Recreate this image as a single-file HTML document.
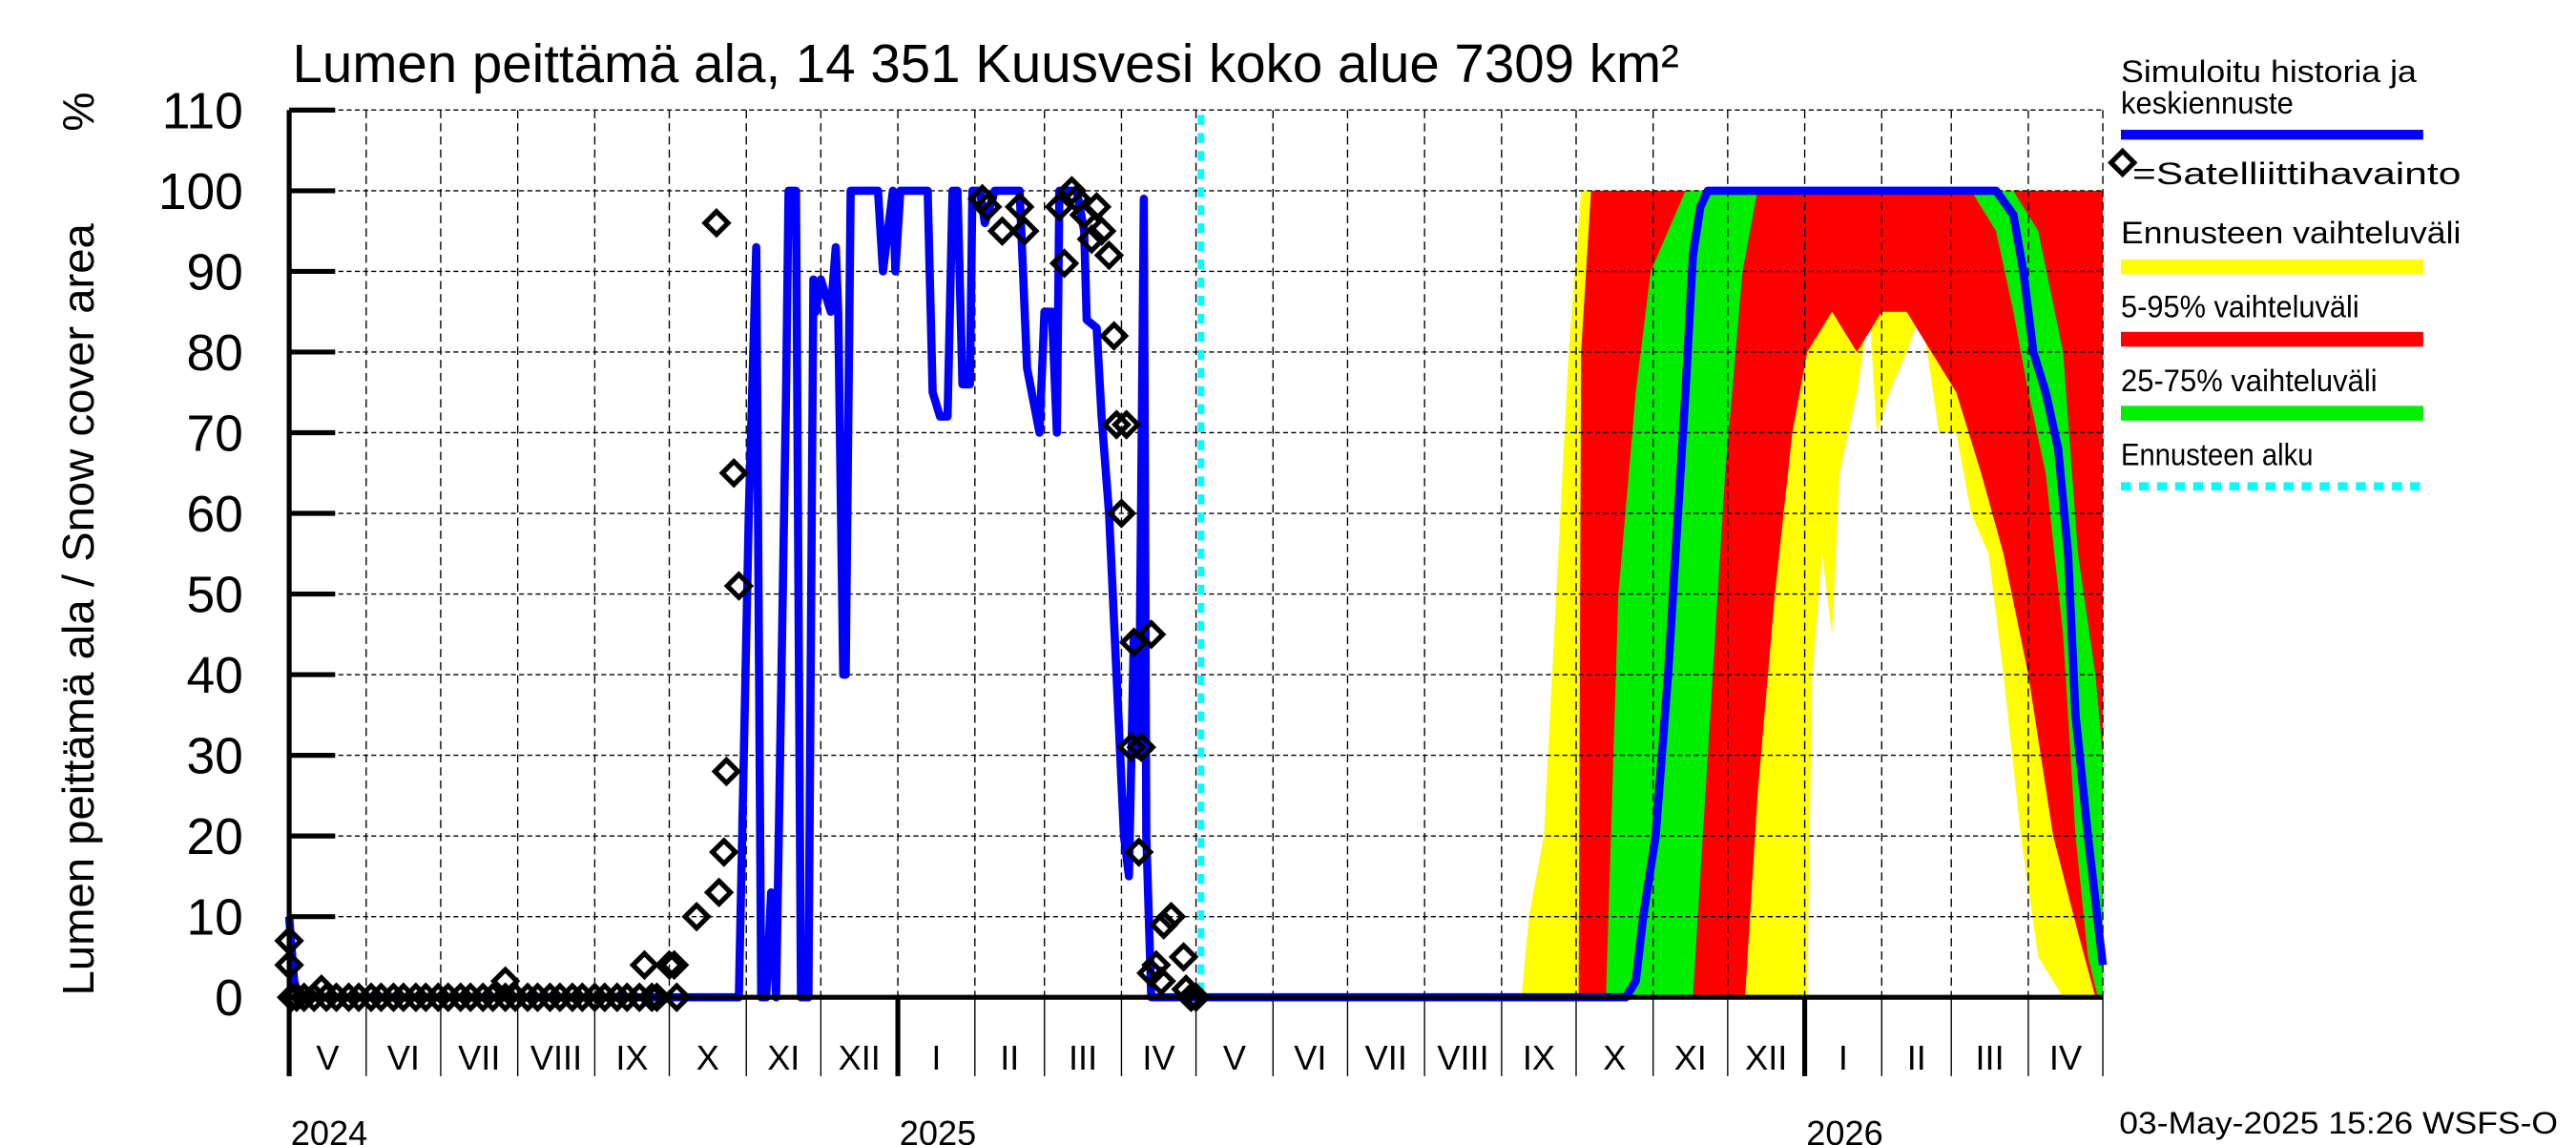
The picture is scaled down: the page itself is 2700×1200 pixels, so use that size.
<!DOCTYPE html>
<html><head><meta charset="utf-8"><style>
html,body{margin:0;padding:0;background:#fff;}
svg{display:block;}
text{font-family:"Liberation Sans",sans-serif;fill:#000;}
</style></head><body>
<svg id="chart" width="2700" height="1200" viewBox="0 0 1568 696.9" xmlns="http://www.w3.org/2000/svg">
<rect x="0" y="0" width="1568" height="697" fill="#fff"/>
<g id="bands"></g>
<g id="grid"></g>
<g id="lines"></g>
<g id="marks"></g>
<g id="axes"></g>
<text x="178" y="50" font-size="33" textLength="844" lengthAdjust="spacingAndGlyphs">Lumen peittämä ala, 14 351 Kuusvesi koko alue 7309 km²</text>
<text transform="translate(57,606) rotate(-90)" font-size="27" textLength="470" lengthAdjust="spacingAndGlyphs">Lumen peittämä ala / Snow cover area</text>
<text transform="translate(57,80) rotate(-90)" font-size="27">%</text>
<g font-size="19">
<text x="1291" y="50" textLength="180" lengthAdjust="spacingAndGlyphs">Simuloitu historia ja</text>
<text x="1291" y="69" textLength="105" lengthAdjust="spacingAndGlyphs">keskiennuste</text>
<rect x="1291" y="79" width="184" height="6" fill="#0000ff"/>
<path d="M1292,92 L1299,99 L1292,106 L1285,99 Z" fill="none" stroke="#000" stroke-width="3"/>
<text x="1298" y="112" textLength="200" lengthAdjust="spacingAndGlyphs">=Satelliittihavainto</text>
<text x="1291" y="148" textLength="207" lengthAdjust="spacingAndGlyphs">Ennusteen vaihteluväli</text>
<rect x="1291" y="158" width="184" height="9" fill="#ffff00"/>
<text x="1291" y="193" textLength="145" lengthAdjust="spacingAndGlyphs">5-95% vaihteluväli</text>
<rect x="1291" y="202" width="184" height="9" fill="#ff0000"/>
<text x="1291" y="238" textLength="156" lengthAdjust="spacingAndGlyphs">25-75% vaihteluväli</text>
<rect x="1291" y="247" width="184" height="9" fill="#00ee00"/>
<text x="1291" y="283" textLength="117" lengthAdjust="spacingAndGlyphs">Ennusteen alku</text>
<line x1="1291" y1="296" x2="1475" y2="296" stroke="#00ffff" stroke-width="5" stroke-dasharray="6,5"/>
</g>
<text x="1290" y="690" font-size="19" textLength="267" lengthAdjust="spacingAndGlyphs">03-May-2025 15:26 WSFS-O</text>
</svg>
<script>
// Data (x = days since 2024-05-01, y = %)
const histDays = [0,2,4,181,185,188,190,192,194,196,200,201,204,206,209,211,212,214,218,220,221,223,224,226,237,239,243,244,246,257,259,262,265,267,269,271,274,275,278,280,284,294,297,302,304,307,309,310,317,320,321,325,327,330,333,336,338,340,342,344,345,347,366];
const histVals = [10,2,0,0,60,93,0,0,13,0,75,100,100,0,0,89,85,89,85,93,85,40,40,100,100,90,100,90,100,100,75,72,72,100,100,76,76,100,100,96,100,100,78,70,85,85,70,100,100,95,84,83,72,60,40,20,15,45,30,99,20,0,0];
const fcDays = [367,538,542,545,550,555,558,562,565,568,571,600,687,694,698,702,707,712,716,719,724,730];
const fcVals = [0,0,2,10,20,40,55,75,92,98,100,100,100,97,90,80,75,68,55,35,20,4];
const yelDays = [367,496,499,505,515,520,730];
const yelHi = [0,0,10,20,80,100,100];
const yelLoDays = [367,611,613,617,621,624,631,636,639,644,651,657,664,671,677,684,690,697,704,714,730];
const yelLo = [0,0,40,55,45,65,75,85,70,75,80,85,70,70,60,55,40,20,5,0,0];
const redDays = [367,519,520,524,730];
const redHi = [0,0,80,100,100];
const redLoDays = [367,586,591,598,605,611,621,631,641,651,661,671,681,690,700,710,720,727,730];
const redLo = [0,0,25,50,70,80,85,80,85,85,80,75,65,55,40,20,8,0,0];
const grnDays = [367,530,535,542,548,562,694,704,714,720,727,730];
const grnHi = [0,0,50,75,90,100,100,95,80,55,40,30];
const grnLoDays = [367,565,571,578,585,591,677,687,694,700,707,714,719,724,728,730];
const grnLo = [0,0,30,65,90,100,100,95,85,75,65,45,20,5,0,0];
const satDays = [0,0,1,13,3,6,10,15,19,24,28,33,37,42,46,51,55,60,64,69,73,78,82,87,91,96,100,105,109,114,118,123,127,132,136,141,146,148,87,143,153,155,156,164,173,175,176,172,179,181,279,281,287,294,296,310,312,315,317,320,323,325,327,330,332,333,337,335,340,347,339,343,342,347,349,351,352,355,360,361,365,363];
const satVals = [7,4,0,1,0,0,0,0,0,0,0,0,0,0,0,0,0,0,0,0,0,0,0,0,0,0,0,0,0,0,0,0,0,0,0,0,0,0,2,4,4,4,0,10,13,18,28,96,65,51,99,98,95,98,95,98,91,100,99,97,94,98,95,92,82,71,71,60,44,45,31,31,18,3,4,2,9,10,5,1,0,0];
const yTicks = [0,10,20,30,40,50,60,70,80,90,100,110];
const monthLabels = ["V","VI","VII","VIII","IX","X","XI","XII","I","II","III","IV","V","VI","VII","VIII","IX","X","XI","XII","I","II","III","IV"];
const monthLens = [31,30,31,31,30,31,30,31,31,28,31,30,31,30,31,31,30,31,30,31,31,28,31,30];
const yearLabels = ["2024","2025","2026"];
const yearDays = [0,245,610];

const L=176,R=1280,T=67,B=607,NDAYS=730;
const X=d=>L+d*(R-L)/NDAYS;
const Y=v=>B-v*(B-T)/110;
const NS="http://www.w3.org/2000/svg";
function mk(parent,tag,attrs){const e=document.createElementNS(NS,tag);for(const k in attrs)e.setAttribute(k,attrs[k]);document.getElementById(parent).appendChild(e);return e;}
function interp(ds,vs,d){if(d<=ds[0])return vs[0];for(let i=1;i<ds.length;i++){if(d<=ds[i]){const t=(d-ds[i-1])/(ds[i]-ds[i-1]);return vs[i-1]+t*(vs[i]-vs[i-1]);}}return vs[vs.length-1];}
function band(hiD,hiV,loD,loV,color,name){
  let pts=[];
  for(let d=367;d<=730;d+=0.5)pts.push(X(d)+","+Y(interp(hiD,hiV,d)));
  for(let d=730;d>=367;d-=0.5)pts.push(X(d)+","+Y(interp(loD,loV,d)));
  const p=mk("bands","polygon",{points:pts.join(" "),fill:color});
  
  
}
band(yelDays,yelHi,yelLoDays,yelLo,"#ffff00","band-yellow");
band(redDays,redHi,redLoDays,redLo,"#ff0000","band-red");
band(grnDays,grnHi,grnLoDays,grnLo,"#00ee00","band-green");
yTicks.forEach(v=>{
  if(v>0){const g=mk("grid","line",{x1:L,x2:R,y1:Y(v),y2:Y(v),stroke:"#000","stroke-width":0.8,"stroke-dasharray":"3,2"});
  
  }
  const t=mk("axes","line",{x1:L,x2:L+28,y1:Y(v),y2:Y(v),stroke:"#000","stroke-width":3});
  
  
  const lb=mk("axes","text",{x:148,y:Y(v)+11,"font-size":31,"text-anchor":"end"});
  lb.textContent=v;
  
  
});
let acc=0;
monthLabels.forEach((m,i)=>{
  const x0=X(acc),x1=X(acc+monthLens[i]);
  const isJan=(m==="I");
  if(i>0){
    const g=mk("grid","line",{x1:x0,x2:x0,y1:T,y2:B,stroke:"#000","stroke-width":0.8,"stroke-dasharray":"5,3"});
    
    
  }
  const tk=mk("axes","line",{x1:x0,x2:x0,y1:B,y2:655,stroke:"#000","stroke-width":isJan?3:0.8});
  
  
  const lb=mk("axes","text",{x:(x0+x1)/2,y:651,"font-size":21,"text-anchor":"middle"});
  lb.textContent=m;
  
  
  acc+=monthLens[i];
});
const rg=mk("grid","line",{x1:R,x2:R,y1:T,y2:B,stroke:"#000","stroke-width":0.8,"stroke-dasharray":"5,3"});


const endTick=mk("axes","line",{x1:R,x2:R,y1:B,y2:655,stroke:"#000","stroke-width":0.8});


yearLabels.forEach((y,i)=>{
  const t=mk("axes","text",{x:X(yearDays[i])+1,y:697,"font-size":21});
  t.textContent=y;
  
  
});
const ya=mk("axes","line",{x1:L,x2:L,y1:T,y2:B+48,stroke:"#000","stroke-width":3});


const xa=mk("axes","line",{x1:L,x2:R,y1:B,y2:B,stroke:"#000","stroke-width":3});


const fs=mk("lines","line",{x1:X(367),x2:X(367),y1:T+3,y2:B,stroke:"#00ffff","stroke-width":4,"stroke-dasharray":"6,5"});


const hp=mk("lines","polyline",{points:histDays.map((d,i)=>X(d)+","+Y(histVals[i])).join(" "),fill:"none",stroke:"#0000ff","stroke-width":5,"stroke-linejoin":"round"});


const fp=mk("lines","polyline",{points:fcDays.map((d,i)=>X(d)+","+Y(fcVals[i])).join(" "),fill:"none",stroke:"#0000ff","stroke-width":5,"stroke-linejoin":"round"});


satDays.forEach((d,i)=>{
  const x=X(d),y=Y(satVals[i]);
  const p=mk("marks","path",{d:`M${x},${y-7} L${x+7},${y} L${x},${y+7} L${x-7},${y} Z`,fill:"none",stroke:"#000","stroke-width":3});
  
  
});
</script>
</body></html>
